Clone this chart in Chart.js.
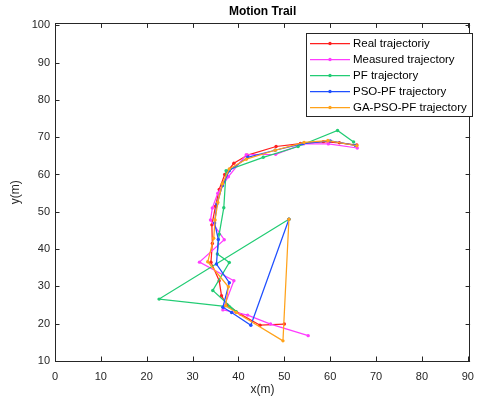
<!DOCTYPE html>
<html>
<head>
<meta charset="utf-8">
<script src="https://cdn.jsdelivr.net/npm/chart.js@4/dist/chart.umd.min.js"></script>
<style>
    body { margin: 0; background: #fff; }
    #wrap { width: 483px; height: 403px; }
</style>
</head>
<body>
<div id="wrap"><canvas id="TrailChart" width="483" height="403"></canvas></div>
<script>
// ---------------- Data ----------------
const seriesNames = ["Real trajectoriy", "Measured trajectory", "PF trajectory", "PSO-PF trajectory", "GA-PSO-PF trajectory"];
const seriesColors = ["#ff1f1f", "#ff3cff", "#22cc74", "#1f4fff", "#ffa21a"];

const realX = [50.0, 44.7, 40.5, 37.5, 36.3, 35.8, 34.0, 34.3, 34.2, 35.0, 35.8, 37.0, 39.0, 42.0, 48.2, 53.5, 58.5, 62.0, 65.8];
const realY = [19.9, 19.6, 22.5, 25.0, 27.5, 31.5, 36.5, 41.5, 46.5, 51.5, 56.0, 60.0, 63.0, 65.2, 67.5, 68.3, 68.8, 68.5, 67.9];

const measX = [55.2, 47.0, 42.0, 36.6, 39.0, 31.5, 36.9, 33.9, 34.3, 35.5, 37.8, 41.7, 48.1, 54.2, 59.6, 65.9];
const measY = [16.8, 19.9, 22.3, 23.7, 31.5, 36.5, 42.5, 47.8, 51.0, 55.0, 59.4, 65.3, 65.4, 68.2, 68.2, 67.1];

const pfX = [51.0, 22.7, 38.0, 39.5, 34.4, 38.0, 35.4, 35.8, 36.8, 37.3, 45.4, 53.0, 61.6, 65.1];
const pfY = [48.0, 26.6, 24.5, 23.2, 28.9, 36.4, 38.7, 44.0, 51.1, 61.0, 64.6, 67.5, 71.8, 68.7];

const psoX = [51.0, 42.7, 38.5, 36.6, 38.0, 35.2, 35.6, 34.8, 35.3, 36.5, 38.0, 42.0, 48.0, 54.0, 60.0, 65.5];
const psoY = [48.0, 19.6, 23.0, 24.4, 31.0, 36.0, 42.6, 47.0, 52.1, 57.0, 61.0, 64.6, 66.5, 68.3, 69.0, 67.8];

const gaX = [51.0, 49.7, 39.5, 37.2, 37.8, 33.3, 34.6, 34.9, 35.5, 36.5, 38.0, 41.7, 48.0, 54.3, 59.5, 65.8];
const gaY = [48.0, 15.4, 23.0, 24.8, 29.9, 36.6, 42.9, 47.8, 52.5, 57.5, 61.5, 64.1, 66.5, 68.6, 69.1, 67.7];

const xTicks = [0, 10, 20, 30, 40, 50, 60, 70, 80, 90];
const yTicks = [10, 20, 30, 40, 50, 60, 70, 80, 90, 100];

const FONT = "'Liberation Sans', Arial, Helvetica, sans-serif";
const AXIS_COLOR = "#262626";


// ---------------- Build datasets ----------------
function toPoints(xs, ys) {
    return xs.map((x, i) => ({x: x, y: ys[i]}));
}

const allX = [realX, measX, pfX, psoX, gaX];
const allY = [realY, measY, pfY, psoY, gaY];

const datasets = seriesNames.map((name, i) => ({
    label: name,
    data: toPoints(allX[i], allY[i]),
    borderColor: seriesColors[i],
    backgroundColor: seriesColors[i],
    borderWidth: 1.25,
    pointRadius: 1.7,
    pointHoverRadius: 1.7,
    pointBorderWidth: 0,
    showLine: true,
    tension: 0,
    order: seriesNames.length - i   // later series on top, like MATLAB
}));


// ---------------- Box, inner ticks and legend ----------------
const matlabFrame = {
    id: "matlabFrame",
    afterDraw(chart) {
        const ctx = chart.ctx;
        const a = chart.chartArea;
        const xs = chart.scales.x;
        const ys = chart.scales.y;
        const tl = 4.5;

        ctx.save();
        ctx.strokeStyle = AXIS_COLOR;
        ctx.lineWidth = 1;
        ctx.strokeRect(Math.round(a.left) + 0.5, Math.round(a.top) + 0.5,
                       Math.round(a.right - a.left) - 1, Math.round(a.bottom - a.top));

        ctx.beginPath();
        xTicks.forEach(v => {
            const px = Math.round(xs.getPixelForValue(v)) + 0.5;
            ctx.moveTo(px, a.bottom);
            ctx.lineTo(px, a.bottom - tl);
            ctx.moveTo(px, a.top);
            ctx.lineTo(px, a.top + tl);
        });
        yTicks.forEach(v => {
            const py = Math.round(ys.getPixelForValue(v)) + 0.5;
            ctx.moveTo(a.left, py);
            ctx.lineTo(a.left + tl, py);
            ctx.moveTo(a.right, py);
            ctx.lineTo(a.right - tl, py);
        });
        ctx.stroke();

        // legend box (top right, inside the axes)
        const bx = 306.5, by = 33.5, bw = 166, bh = 83;
        ctx.fillStyle = "#fff";
        ctx.fillRect(bx, by, bw, bh);
        ctx.strokeRect(bx, by, bw, bh);

        ctx.font = "11.5px " + FONT;
        ctx.textBaseline = "middle";
        ctx.textAlign = "left";
        ctx.lineWidth = 1.25;
        seriesNames.forEach((name, i) => {
            const rowY = 43.5 + i * 16;
            ctx.strokeStyle = seriesColors[i];
            ctx.beginPath();
            ctx.moveTo(310, rowY);
            ctx.lineTo(350, rowY);
            ctx.stroke();
            ctx.fillStyle = seriesColors[i];
            ctx.beginPath();
            ctx.arc(330, rowY, 1.7, 0, Math.PI * 2);
            ctx.fill();
            ctx.fillStyle = "#000";
            ctx.fillText(name, 353, rowY + 0.5);
        });
        ctx.restore();
    }
};


// ---------------- Chart ----------------
new Chart(document.getElementById("TrailChart").getContext("2d"), {

    type: "scatter",

    data: {
        datasets: datasets
    },

    options: {

        responsive: false,
        animation: false,
        events: [],

        layout: {
            padding: {top: 0, right: 5, bottom: 0, left: 0}
        },

        scales: {

            x: {
                type: "linear",
                position: "bottom",
                min: 0,
                max: 90.5,
                grid: {display: false, drawTicks: false},
                border: {display: false},
                ticks: {
                    stepSize: 10,
                    includeBounds: false,
                    maxRotation: 0,
                    padding: 9,
                    color: AXIS_COLOR,
                    font: {family: FONT, size: 11}
                },
                title: {
                    display: true,
                    text: "x(m)",
                    color: AXIS_COLOR,
                    font: {family: FONT, size: 12},
                    padding: {top: 0, bottom: 6}
                },
                afterFit: s => { s.height = 42; }
            },

            y: {
                type: "linear",
                min: 10,
                max: 100.5,
                grid: {display: false, drawTicks: false},
                border: {display: false},
                ticks: {
                    stepSize: 10,
                    includeBounds: false,
                    padding: 5,
                    color: AXIS_COLOR,
                    font: {family: FONT, size: 11}
                },
                title: {
                    display: true,
                    text: "y(m)",
                    color: AXIS_COLOR,
                    font: {family: FONT, size: 12},
                    padding: {top: 8, bottom: 0}
                },
                afterFit: s => { s.width = 55; }
            }

        },

        plugins: {

            legend: {display: false},
            tooltip: {enabled: false},

            title: {
                display: true,
                text: "Motion Trail",
                fullSize: false,
                color: "#000",
                font: {family: FONT, size: 12, weight: "bold"},
                padding: {top: 4, bottom: 5}
            }

        }

    },

    plugins: [matlabFrame]

});
</script>
</body>
</html>
